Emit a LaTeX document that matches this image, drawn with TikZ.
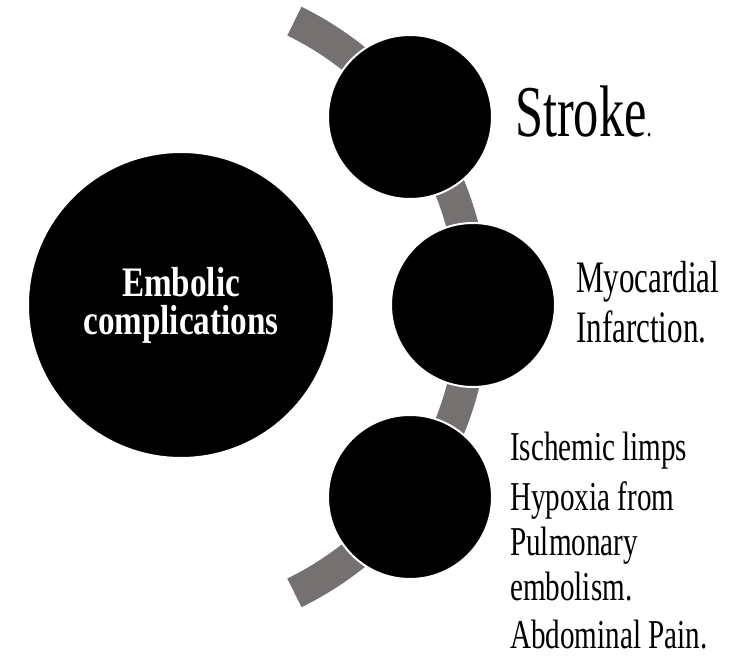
\documentclass[tikz,border=0pt]{standalone}
\usepackage{fontspec}
\usetikzlibrary{calc}
\newfontfamily\stkfont[FakeStretch=0.69]{Liberation Serif}
\newfontfamily\myofont[FakeStretch=0.69]{Liberation Serif}
\newfontfamily\lstfont[FakeStretch=0.71]{Liberation Serif}
\newfontfamily\embfont[FakeStretch=0.79]{Liberation Serif}
\definecolor{bandgrey}{RGB}{118,113,113}
\begin{document}
\begin{tikzpicture}[x=1pt,y=1pt,
  band/.style={draw=bandgrey,line width=32pt},
  bigdisc/.style={circle,fill=black,draw=white,line width=2pt,minimum size=306pt,inner sep=0pt},
  smalldisc/.style={circle,fill=black,draw=white,line width=2pt,minimum size=164pt,inner sep=0pt},
  lbl/.style={anchor=base west,inner sep=0pt,text=black},
  stklbl/.style={lbl,font=\stkfont\fontsize{73}{73}\selectfont},
  myolbl/.style={lbl,font=\myofont\fontsize{45}{45}\selectfont},
  lstlbl/.style={lbl,font=\lstfont\fontsize{41}{41}\selectfont},
  emblbl/.style={anchor=base,inner sep=0pt,text=white,font=\embfont\bfseries\fontsize{42}{42}\selectfont}]
\useasboundingbox (0,0) rectangle (746,656);
\coordinate (ac) at (155,349);
\draw[band] ($(ac)+(-64:318)$) arc[start angle=-64,end angle=64,radius=318];
\node[bigdisc] (big) at (181,351) {};
\node[smalldisc] (c1) at (410,539) {};
\node[smalldisc] (c2) at (473,351) {};
\node[smalldisc] (c3) at (410,159) {};
\node[emblbl] (emb1) at (181,359) {Embolic};
\node[emblbl] (emb2) at (181,321) {complications};
\node[stklbl] (stroke) at (515,519) {Stroke{\fontsize{30}{30}\selectfont.}};
\node[myolbl] (myo1) at (576,363) {Myocardial};
\node[myolbl] (myo2) at (576,313) {Infarction.};
\node[lstlbl] (l1) at (510,196) {Ischemic limps};
\node[lstlbl] (l2) at (510,146) {Hypoxia from};
\node[lstlbl] (l3) at (510,101) {Pulmonary};
\node[lstlbl] (l4) at (510,56) {embolism.};
\node[lstlbl] (l5) at (510,8) {Abdominal Pain.};
\end{tikzpicture}
\end{document}
